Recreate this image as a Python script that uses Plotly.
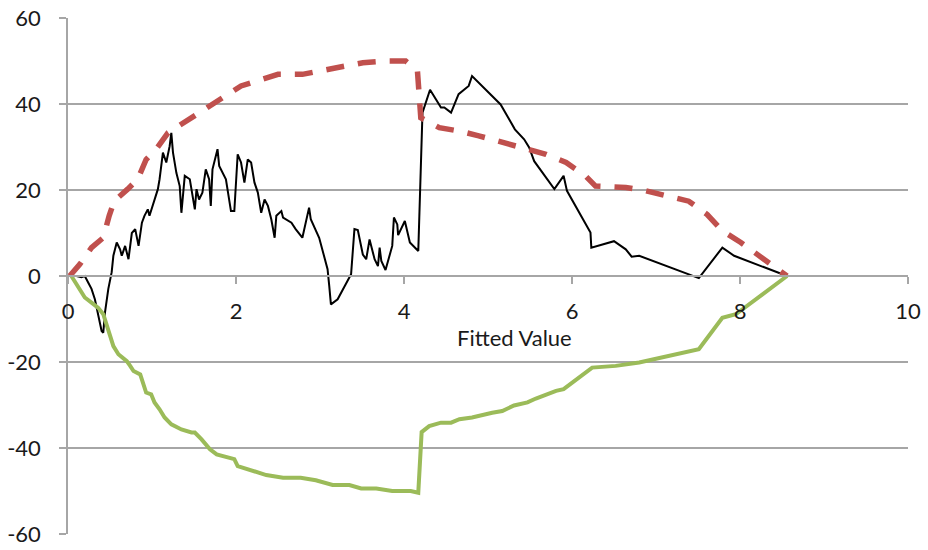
import plotly.graph_objects as go

# Cumulative residuals against fitted value
resid_x = [0.02, 0.10, 0.16, 0.20, 0.24, 0.28, 0.32, 0.36, 0.38, 0.40, 0.42, 0.44, 0.48, 0.52,
           0.54, 0.58, 0.62, 0.64, 0.68, 0.72, 0.76, 0.80, 0.84, 0.88, 0.91, 0.95, 0.97, 1.03,
           1.07, 1.09, 1.13, 1.17, 1.21, 1.23, 1.25, 1.29, 1.33, 1.35, 1.39, 1.45, 1.51, 1.53,
           1.56, 1.60, 1.64, 1.68, 1.70, 1.72, 1.78, 1.80, 1.88, 1.94, 1.98, 2.02, 2.06, 2.10,
           2.14, 2.18, 2.22, 2.26, 2.30, 2.34, 2.38, 2.42, 2.46, 2.48, 2.54, 2.56, 2.66, 2.71,
           2.79, 2.87, 2.89, 2.99, 3.05, 3.09, 3.11, 3.13, 3.21, 3.23, 3.37, 3.41, 3.45, 3.51,
           3.55, 3.59, 3.65, 3.69, 3.71, 3.73, 3.78, 3.86, 3.88, 3.92, 3.93, 4.01, 4.07, 4.17,
           4.22, 4.31, 4.44, 4.48, 4.56, 4.65, 4.77, 4.81, 5.15, 5.32, 5.43, 5.49, 5.55, 5.79,
           5.90, 5.94, 6.22, 6.23, 6.50, 6.64, 6.71, 6.80, 7.51, 7.79, 7.93, 8.56]
resid_y = [0.0, 0.0, -0.3, 0.0, -1.5, -3.0, -5.4, -9.3, -11.6, -12.8, -13.2, -8.5, -3.0, 0.9,
           4.7, 7.8, 6.2, 4.7, 7.0, 3.9, 10.0, 10.9, 7.0, 12.4, 14.0, 15.5, 14.0, 17.8,
           20.2, 22.5, 28.7, 26.4, 30.2, 33.3, 28.7, 24.0, 20.9, 14.7, 23.3, 22.5, 15.5, 20.2,
           17.8, 19.4, 24.8, 22.5, 16.3, 24.8, 29.5, 25.6, 22.5, 15.1, 15.1, 28.3, 26.4, 21.7,
           27.1, 26.4, 21.7, 19.4, 14.7, 17.8, 16.3, 13.2, 8.9, 14.0, 15.1, 13.6, 12.4, 10.9,
           8.9, 15.9, 13.2, 8.9, 4.7, 1.6, -2.3, -6.6, -5.4, -4.7, 0.4, 10.9, 10.7, 5.0,
           3.9, 8.5, 3.9, 2.3, 6.6, 3.5, 1.4, 7.0, 13.6, 12.0, 9.5, 12.8, 7.8, 5.8,
           38.0, 43.3, 39.2, 39.2, 38.0, 42.3, 44.2, 46.5, 39.9, 34.1, 31.8, 29.9, 26.7, 20.2,
           23.3, 19.8, 10.1, 6.6, 8.1, 6.2, 4.5, 4.7, -0.5, 6.6, 4.7, 0.0]

# Upper simulation bound
upper_x = [0.02, 0.14, 0.28, 0.42, 0.49, 0.55, 0.71, 0.83, 0.93, 1.05, 1.19, 1.35, 1.56, 1.72,
           1.92, 2.06, 2.30, 2.50, 2.79, 3.01, 3.27, 3.51, 3.78, 4.02, 4.16, 4.20, 4.42, 4.66,
           4.89, 5.21, 5.37, 5.69, 5.93, 6.16, 6.28, 6.64, 6.88, 7.39, 7.61, 7.79, 8.01, 8.22,
           8.56]
upper_y = [0.0, 2.7, 6.6, 8.9, 14.0, 17.4, 20.2, 22.5, 27.1, 29.5, 33.3, 35.3, 37.6, 39.9,
           42.3, 44.2, 45.7, 46.9, 46.9, 47.7, 48.5, 49.6, 50.0, 50.0, 47.7, 36.8, 34.5, 33.7,
           32.6, 31.0, 29.9, 28.3, 26.4, 23.3, 20.9, 20.6, 19.8, 17.4, 14.3, 10.5, 7.8, 4.7,
           0.0]

# Lower simulation bound
lower_x = [0.04, 0.10, 0.16, 0.20, 0.28, 0.36, 0.42, 0.46, 0.50, 0.54, 0.60, 0.70, 0.74, 0.78,
           0.86, 0.90, 0.93, 0.99, 1.03, 1.09, 1.15, 1.23, 1.35, 1.47, 1.51, 1.59, 1.69, 1.77,
           1.89, 1.98, 2.02, 2.14, 2.28, 2.36, 2.56, 2.77, 2.95, 3.07, 3.15, 3.35, 3.49, 3.67,
           3.86, 4.08, 4.17, 4.21, 4.30, 4.44, 4.56, 4.66, 4.81, 5.05, 5.17, 5.31, 5.47, 5.57,
           5.81, 5.90, 6.24, 6.52, 6.80, 7.51, 7.79, 7.95, 8.56]
lower_y = [0.0, -1.9, -3.9, -5.0, -6.2, -7.4, -8.9, -11.6, -13.5, -16.3, -18.2, -19.8, -20.9, -22.1,
           -22.9, -25.6, -27.1, -27.5, -29.4, -31.0, -32.9, -34.5, -35.7, -36.4, -36.4, -38.0, -40.3, -41.5,
           -42.2, -42.6, -44.2, -45.0, -45.7, -46.3, -46.9, -46.9, -47.5, -48.1, -48.6, -48.6, -49.4, -49.4,
           -50.0, -50.0, -50.4, -36.3, -34.9, -34.1, -34.1, -33.3, -32.9, -31.8, -31.4, -30.1, -29.4, -28.5,
           -26.7, -26.3, -21.3, -20.9, -20.1, -17.0, -9.7, -8.9, 0.0]

x_ticks = [0, 2, 4, 6, 8, 10]
y_ticks = [-60, -40, -20, 0, 20, 40, 60]
y_tick_labels = ["-60", "-40", "-20", "0", "20", "40", "60"]

FONT = "Lato"
TEXT = "#1a1a1a"
GRID = "#a6a6a6"

fig = go.Figure()
fig.add_trace(go.Scatter(x=resid_x, y=resid_y, mode="lines",
                         line=dict(color="black", width=2), name="Cumulative residual"))
fig.add_trace(go.Scatter(x=upper_x, y=upper_y, mode="lines",
                         line=dict(color="#C0504D", width=5.5, dash="18px,14px"), name="Upper"))
fig.add_trace(go.Scatter(x=lower_x, y=lower_y, mode="lines",
                         line=dict(color="#9BBB59", width=4), name="Lower"))

fig.update_layout(
    width=928, height=550,
    margin=dict(l=68, r=20, t=18, b=15.5, autoexpand=False),
    paper_bgcolor="white", plot_bgcolor="white",
    showlegend=False,
    font=dict(family=FONT, size=22, color=TEXT),
    xaxis=dict(
        range=[0, 10], tickmode="array", tickvals=x_ticks,
        anchor="free", position=0.5, automargin=False,
        showline=True, linecolor=GRID, linewidth=1.5,
        ticks="outside", ticklen=7, tickcolor=GRID, tickwidth=1.5,
        showgrid=False, zeroline=False,
        ticklabelstandoff=9,
        tickfont=dict(family=FONT, size=22, color=TEXT),
    ),
    yaxis=dict(
        range=[-60, 60], tickmode="array", tickvals=y_ticks, ticktext=y_tick_labels,
        automargin=False,
        showline=True, linecolor=GRID, linewidth=1.5,
        ticks="outside", ticklen=7, tickcolor=GRID, tickwidth=1.5,
        showgrid=True, gridcolor=GRID, gridwidth=1.5, zeroline=False,
        ticklabelstandoff=14,
        tickfont=dict(family=FONT, size=22, color=TEXT),
    ),
    annotations=[dict(
        text="Fitted Value", x=5.31, y=-14.4, xref="x", yref="y",
        showarrow=False, font=dict(family=FONT, size=22, color=TEXT),
    )],
)

fig.write_html("out.html")
